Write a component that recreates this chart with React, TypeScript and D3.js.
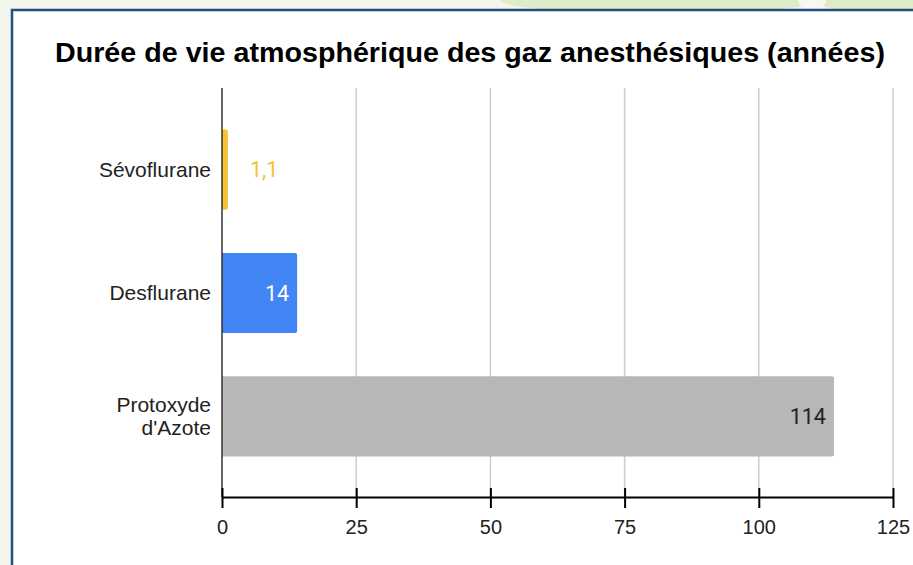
import React, { useEffect, useRef } from "react";
import * as d3 from "d3";

const categories = ["Sévoflurane", "Desflurane", "Protoxyde\nd'Azote"];
const values = [1.1, 14, 114];
const valueLabels = ["1,1", "14", "114"];
const barColors = ["#f4c430", "#4285f4", "#b7b7b7"];
const ticks = [0, 25, 50, 75, 100, 125];
const title = "Durée de vie atmosphérique des gaz anesthésiques (années)";

const W = 913;
const H = 565;

const App = () => {
  const ref = useRef<SVGSVGElement>(null);

  useEffect(() => {
    const svg = d3.select(ref.current);
    svg.selectAll("*").remove();

    // backdrop behind the white panel
    svg.append("rect").attr("width", W).attr("height", H).attr("fill", "#f2f5ea");
    const leaves = svg.append("g").attr("fill", "#dcebc4").attr("opacity", 0.9);
    leaves.append("ellipse").attr("cx", 660).attr("cy", 0).attr("rx", 160).attr("ry", 14);
    leaves.append("ellipse").attr("cx", 880).attr("cy", 2).attr("rx", 60).attr("ry", 12);
    svg.append("ellipse").attr("cx", 812).attr("cy", 0).attr("rx", 14).attr("ry", 10).attr("fill", "#f6f8f1");

    // panel
    svg
      .append("rect")
      .attr("x", 12)
      .attr("y", 10)
      .attr("width", W + 10)
      .attr("height", H + 10)
      .attr("fill", "#fff")
      .attr("stroke", "#234d85")
      .attr("stroke-width", 2.5);

    svg
      .append("text")
      .attr("x", 470)
      .attr("y", 62)
      .attr("text-anchor", "middle")
      .attr("textLength", 830)
      .attr("lengthAdjust", "spacingAndGlyphs")
      .style("font-family", "Arial, 'Liberation Sans', sans-serif")
      .style("font-weight", "bold")
      .style("font-size", "27px")
      .attr("fill", "#000")
      .text(title);

    const x = d3.scaleLinear().domain([0, 125]).range([222, 893]);
    const y = d3
      .scaleBand()
      .domain(categories)
      .range([108, 478])
      .paddingInner(0.35)
      .paddingOuter(0.175);

    // gridlines
    svg
      .append("g")
      .selectAll("line")
      .data(ticks.slice(1))
      .enter()
      .append("line")
      .attr("x1", (d) => x(d))
      .attr("x2", (d) => x(d))
      .attr("y1", 88)
      .attr("y2", 497)
      .attr("stroke", "#cccccc")
      .attr("stroke-width", 1.5);

    // bars with small rounded right corners
    const r = 2;
    svg
      .append("g")
      .selectAll("path")
      .data(values)
      .enter()
      .append("path")
      .attr("d", (d, i) => {
        const x0 = x(0);
        const x1 = x(d);
        const y0 = y(categories[i])!;
        const h = y.bandwidth();
        const rr = Math.min(r, (x1 - x0) / 2);
        return `M${x0},${y0}H${x1 - rr}Q${x1},${y0} ${x1},${y0 + rr}V${y0 + h - rr}Q${x1},${y0 + h} ${x1 - rr},${y0 + h}H${x0}Z`;
      })
      .attr("fill", (d, i) => barColors[i]);

    // value labels
    const lbl = svg
      .append("g")
      .style("font-family", "Roboto, sans-serif")
      .style("font-size", "21.5px");
    values.forEach((v, i) => {
      const cy = y(categories[i])! + y.bandwidth() / 2;
      const inside = x(v) - x(0) > 50;
      lbl
        .append("text")
        .attr("x", inside ? x(v) - 8 : x(v) + 22)
        .attr("y", cy)
        .attr("dy", "0.35em")
        .attr("text-anchor", inside ? "end" : "start")
        .attr("fill", inside ? (i === 1 ? "#fff" : "#222") : barColors[i])
        .text(valueLabels[i]);
    });

    // category labels
    const cat = svg
      .append("g")
      .style("font-family", "Arial, 'Liberation Sans', sans-serif")
      .style("font-size", "21px")
      .attr("fill", "#222");
    categories.forEach((c) => {
      const lines = c.split("\n");
      const cy = y(c)! + y.bandwidth() / 2;
      const t = cat
        .append("text")
        .attr("x", 211)
        .attr("text-anchor", "end");
      lines.forEach((ln, k) => {
        t.append("tspan")
          .attr("x", 211)
          .attr("y", cy + (k - (lines.length - 1) / 2) * 23)
          .attr("dy", "0.35em")
          .text(ln);
      });
    });

    // left axis line
    svg
      .append("line")
      .attr("x1", 222)
      .attr("x2", 222)
      .attr("y1", 88)
      .attr("y2", 497)
      .attr("stroke", "#333")
      .attr("stroke-width", 1.5);

    // bottom axis
    const ax = svg
      .append("g")
      .attr("transform", "translate(0,497)")
      .call(d3.axisBottom(x).tickValues(ticks).tickSize(0).tickPadding(23));
    ax.select(".domain").attr("stroke", "#000").attr("stroke-width", 2);
    ax.selectAll(".tick line").remove();
    ax.selectAll(".tick")
      .append("line")
      .attr("y1", -9)
      .attr("y2", 11)
      .attr("stroke", "#000")
      .attr("stroke-width", 2);
    ax.selectAll(".tick text")
      .style("font-family", "Arial, 'Liberation Sans', sans-serif")
      .style("font-size", "20px")
      .attr("fill", "#222");
  }, []);

  return (
    <svg
      ref={ref}
      width={W}
      height={H}
      style={{ position: "fixed", left: 0, top: 0, display: "block" }}
    />
  );
};

export default App;
